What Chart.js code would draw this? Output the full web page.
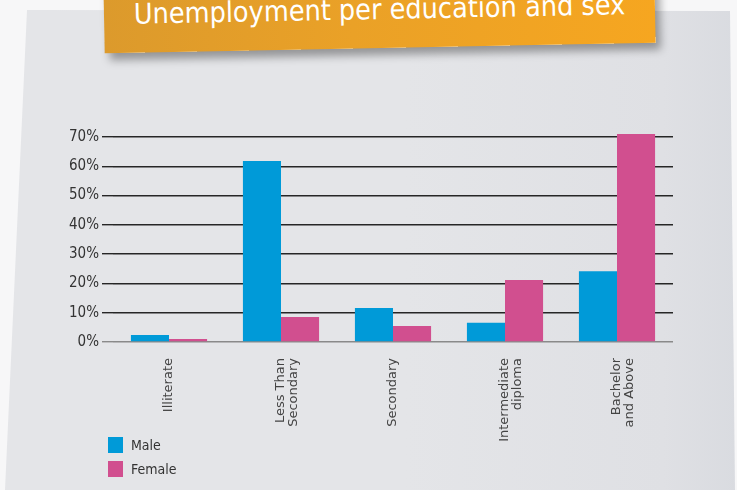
<!DOCTYPE html>
<html>
<head>
<meta charset="utf-8">
<script src="https://cdn.jsdelivr.net/npm/chart.js@4/dist/chart.umd.min.js"></script>
<style>
  html, body { margin: 0; padding: 0; }
  body { width: 737px; height: 490px; background: #f7f7f8; position: relative; overflow: hidden; }
  #paper {
    position: absolute; left: 0; top: 0; width: 737px; height: 490px;
    background: linear-gradient(to right, #e4e5e8 0%, #e4e5e8 55%, #dfe0e4 90%, #d9dbe0 100%);
    clip-path: polygon(27px 10px, 730px 11px, 735px 490px, 5px 490px);
  }
  #banner {
    position: absolute; left: 104px; top: -22px; width: 551px; height: 70px;
    background: linear-gradient(to right, #dc9a2c 0%, #eaa127 45%, #f6a620 100%);
    transform: rotate(-1.1deg);
    box-shadow: 5px 7px 9px rgba(0,0,0,0.35);
    color: #fff; text-align: center;
    font-family: "DejaVu Sans Condensed", "DejaVu Sans", sans-serif;
    font-size: 28.5px; line-height: 32px;
  }
  #banner span { position: absolute; left: 0; right: 0; top: 16px; }
  #chartbox { position: absolute; left: 0; top: 120px; }
  #legend { position: absolute; left: 108px; top: 437px;
    font-family: "DejaVu Sans Condensed", "DejaVu Sans", sans-serif; font-size: 14px; color: #333; }
  .item { height: 16px; line-height: 16px; margin-bottom: 8px; }
  .box { display: inline-block; width: 15px; height: 16px; vertical-align: top; margin-right: 8px; }
</style>
</head>
<body>
<div id="paper"></div>
<div id="banner"><span>Unemployment per education and sex</span></div>
<div id="chartbox"><canvas id="chart" width="737" height="330"></canvas></div>
<div id="legend"></div>
<script>
const categories = ['Illiterate', ['Less Than', 'Secondary'], 'Secondary', ['Intermediate', 'diploma'], ['Bachelor', 'and Above']];
const maleValues = [2.4, 61.8, 11.6, 6.6, 24.2];
const femaleValues = [1.0, 8.5, 5.5, 21.2, 71.0];
const seriesNames = ['Male', 'Female'];
const seriesColors = ['#009ad8', '#d14f8f'];

const ctx = document.getElementById('chart').getContext('2d');
new Chart(ctx, {
    type: 'bar',
    data: {
        labels: categories,
        datasets: [{
            label: seriesNames[0],
            data: maleValues,
            backgroundColor: seriesColors[0],
            categoryPercentage: 0.68,
            barPercentage: 1.0,
            clip: false
        }, {
            label: seriesNames[1],
            data: femaleValues,
            backgroundColor: seriesColors[1],
            categoryPercentage: 0.68,
            barPercentage: 1.0,
            clip: false
        }]
    },
    options: {
        responsive: false,
        animation: false,
        layout: { padding: { top: 17, right: 64, left: 0, bottom: 0 } },
        plugins: {
            legend: { display: false },
            tooltip: { enabled: false }
        },
        scales: {
            x: {
                grid: { display: false },
                border: { display: false },
                ticks: {
                    color: '#444',
                    maxRotation: 90,
                    minRotation: 90,
                    padding: 8,
                    font: { family: 'DejaVu Sans', size: 13, lineHeight: 0.95 }
                },
                afterFit: function (scale) { scale.height = 108; }
            },
            y: {
                min: 0,
                max: 70,
                border: { display: false },
                grid: {
                    color: function (c) { return c.tick && c.tick.value === 0 ? '#8a8a8a' : '#262626'; },
                    lineWidth: 1.4,
                    drawTicks: true,
                    tickLength: 11
                },
                ticks: {
                    stepSize: 10,
                    color: '#333',
                    padding: 3,
                    font: { family: 'DejaVu Sans Condensed', size: 15 },
                    callback: function (v) { return v + '%'; }
                },
                afterFit: function (scale) { scale.width = 113; }
            }
        }
    }
});

const legend = document.getElementById('legend');
seriesNames.forEach(function (name, i) {
    const item = document.createElement('div');
    item.classList.add('item');
    const box = document.createElement('span');
    box.classList.add('box');
    box.style.backgroundColor = seriesColors[i];
    item.appendChild(box);
    item.appendChild(document.createTextNode(name));
    legend.appendChild(item);
});
</script>
</body>
</html>
